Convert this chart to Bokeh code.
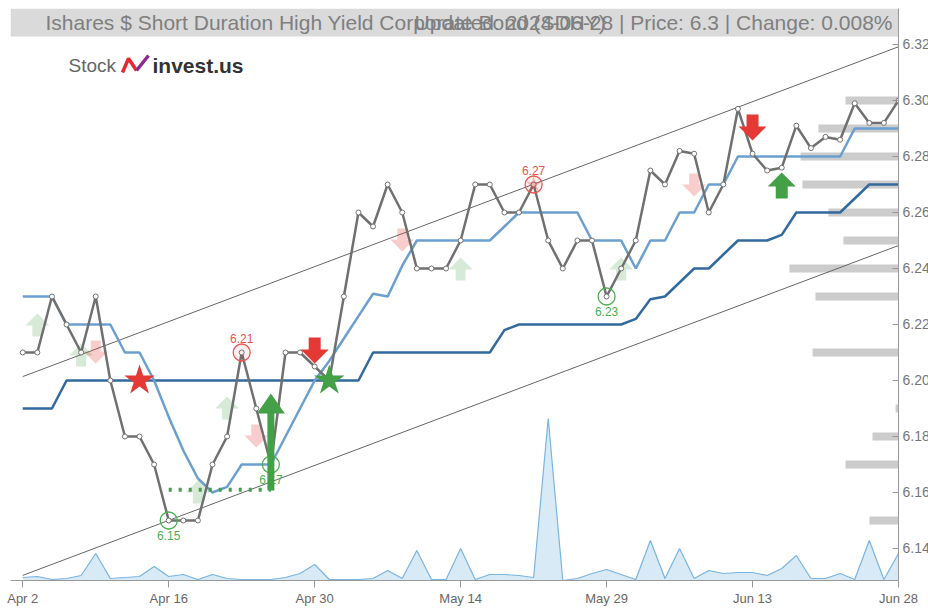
from bokeh.plotting import figure
from bokeh.models import Range1d, FixedTicker, PrintfTickFormatter
from bokeh.core.properties import value
from bokeh.embed import file_html
from bokeh.resources import INLINE

# ---------------- data ----------------
idx = list(range(61))
tick_idx = [0, 10, 20, 30, 40, 50, 60]
tick_labels = ["Apr 2", "Apr 16", "Apr 30", "May 14", "May 29", "Jun 13", "Jun 28"]
y_ticks = [6.14, 6.16, 6.18, 6.20, 6.22, 6.24, 6.26, 6.28, 6.30, 6.32]

price = [6.21, 6.21, 6.23, 6.22, 6.21, 6.23, 6.20, 6.18, 6.18, 6.17,
         6.15, 6.15, 6.15, 6.17, 6.18, 6.21, 6.19, 6.17, 6.21, 6.21,
         6.205, 6.20, 6.23, 6.26, 6.255, 6.27, 6.26, 6.24, 6.24, 6.24,
         6.25, 6.27, 6.27, 6.26, 6.26, 6.27, 6.25, 6.24, 6.25, 6.25,
         6.23, 6.24, 6.25, 6.275, 6.27, 6.282, 6.281, 6.26, 6.27, 6.297,
         6.281, 6.275, 6.276, 6.291, 6.283, 6.287, 6.286, 6.299, 6.292, 6.292,
         6.30]

ma_fast = [6.23, 6.23, 6.23, 6.22, 6.22, 6.22, 6.22, 6.21, 6.21, 6.20,
           6.187, 6.175, 6.165, 6.16, 6.162, 6.17, 6.17, 6.17, 6.18, 6.19,
           6.20, 6.207, 6.215, 6.223, 6.231, 6.23, 6.241, 6.25, 6.25, 6.25,
           6.25, 6.25, 6.25, 6.255, 6.26, 6.26, 6.26, 6.26, 6.26, 6.25,
           6.25, 6.25, 6.24, 6.25, 6.25, 6.26, 6.26, 6.27, 6.27, 6.28,
           6.28, 6.28, 6.28, 6.28, 6.28, 6.28, 6.28, 6.29, 6.29, 6.29,
           6.29]

ma_slow = [6.19, 6.19, 6.19] + [6.20] * 21 + [6.21] * 9 + [6.218] + [6.22] * 8 + \
          [6.222, 6.229, 6.23, 6.235, 6.24, 6.24, 6.245, 6.25, 6.25, 6.25,
           6.252, 6.26, 6.26, 6.26, 6.26, 6.265, 6.27, 6.27, 6.27]

volume = [3, 4, 1, 2, 5, 27, 2, 3, 4, 14,
          4, 6, 1, 6, 2, 1, 1, 1, 3, 7,
          16, 1, 1, 1, 2, 10, 2, 30, 1, 1,
          32, 1, 6, 6, 5, 3, 162, 0, 2, 7,
          11, 6, 1, 40, 2, 32, 2, 10, 7, 8,
          8, 5, 12, 25, 2, 2, 7, 1, 40, 1,
          27]

channel_x = [0, 60]
channel_upper = [6.2014, 6.3192]
channel_lower = [6.1304, 6.2482]

profile_prices = [6.30, 6.29, 6.28, 6.27, 6.26, 6.25, 6.24, 6.23, 6.21, 6.19, 6.18, 6.17, 6.15]
profile_volume = [3.63, 5.48, 6.71, 6.58, 4.80, 3.77, 7.47, 5.69, 5.89, 0.2, 1.78, 3.63, 1.99]

high_pivot_idx = [15, 35]
high_pivot_price = [6.21, 6.27]
low_pivot_idx = [10, 17, 40]
low_pivot_price = [6.15, 6.17, 6.23]

sell_star_idx, sell_star_price = [8], [6.20]
buy_star_idx, buy_star_price = [21], [6.20]

support_idx = [10, 17]
support_price = 6.161

strong_up_idx, strong_up_tip = [52], [6.2743]
strong_down_idx, strong_down_tip = [20, 50], [6.2061, 6.2857]
weak_up_idx = [1, 4, 12, 14, 30, 41]
weak_up_tip = [6.2239, 6.2132, 6.1643, 6.1943, 6.2439, 6.2439]
weak_down_idx = [5, 16, 26, 46]
weak_down_tip = [6.2061, 6.1761, 6.2461, 6.2657]
breakout_idx, breakout_tip = [17], [6.1954]

title_left = "Ishares $ Short Duration High Yield Corporate Bond (SDHY)"
title_right = "Updated: 2024-06-28 | Price: 6.3 | Change: 0.008%"

# ---------------- layout ----------------
FRAME_W, FRAME_H = 888, 572
X_START, X_END = -0.84, 60.0
Y_START, Y_END = 6.128571, 6.332857
XS = FRAME_W / (X_END - X_START)
YS = FRAME_H / (Y_END - Y_START)
FL, FT = 10, 8  # frame left/top in page px


def dx(px):
    return X_START + (px - FL) / XS


def dy(py):
    return Y_END - (py - FT) / YS


FONT = value("Liberation Sans")
RED = "#e53935"
GREEN = "#43a047"

p = figure(frame_width=FRAME_W, frame_height=FRAME_H,
           x_range=Range1d(X_START, X_END), y_range=Range1d(Y_START, Y_END),
           output_backend="svg", toolbar_location=None, y_axis_location="right",
           min_border_left=FL, min_border_top=FT, min_border_right=0, min_border_bottom=0,
           outline_line_color=None, background_fill_color="white", border_fill_color="white")
p.grid.visible = False

xa = p.xaxis[0]
xa.ticker = FixedTicker(ticks=tick_idx)
xa.major_label_overrides = {t: l for t, l in zip(tick_idx, tick_labels)}
xa.axis_line_color = "#999999"
xa.major_tick_line_color = "#999999"
xa.major_tick_in = 0
xa.major_tick_out = 7
xa.minor_tick_line_color = None
xa.major_label_standoff = 3
xa.major_label_text_color = "#666666"
xa.major_label_text_font = "Liberation Sans"
xa.major_label_text_font_size = "13px"

ya = p.yaxis[0]
ya.ticker = FixedTicker(ticks=y_ticks)
ya.formatter = PrintfTickFormatter(format="%.2f")
ya.axis_line_color = "#999999"
ya.major_tick_line_color = "#999999"
ya.major_tick_in = 6
ya.major_tick_out = 0
ya.minor_tick_line_color = None
ya.major_label_standoff = 4
ya.major_label_text_color = "#777777"
ya.major_label_text_font = "Liberation Sans"
ya.major_label_text_font_size = "14px"

# volume area
p.extra_y_ranges = {"vol": Range1d(0, FRAME_H)}
p.varea(x=idx, y1=[0] * len(idx), y2=volume, y_range_name="vol",
        fill_color="#a9d0ec", fill_alpha=0.45)
p.line(idx, volume, y_range_name="vol", line_color="#7ab4e0", line_width=1.2)

# volume profile bars
p.hbar(y=profile_prices, left=[X_END - v for v in profile_volume], right=X_END,
       height=8 / YS, fill_color="#cccccc", line_color=None)

# channel
p.line(channel_x, channel_upper, line_color="#666666", line_width=1)
p.line(channel_x, channel_lower, line_color="#666666", line_width=1)

# moving averages
p.line(idx, ma_slow, line_color="#336a9e", line_width=2.5)
p.line(idx, ma_fast, line_color="#6b9fcf", line_width=2.5)

# support dotted line
p.line(support_idx, [support_price] * 2, line_color=GREEN, line_width=4, line_dash="3 7")


def arrow(i, tip, up, hw, hh, sw, length):
    s = 1 if up else -1
    pts = [(0, 0), (hw / 2, hh), (sw / 2, hh), (sw / 2, length),
           (-sw / 2, length), (-sw / 2, hh), (-hw / 2, hh)]
    return [i + a / XS for a, b in pts], [tip - s * b / YS for a, b in pts]


def arrows(idxs, tips, up, hw, hh, sw, length):
    xs, ys = [], []
    for i, t in zip(idxs, tips):
        ax, ay = arrow(i, t, up, hw, hh, sw, length)
        xs.append(ax)
        ys.append(ay)
    return xs, ys


# weak (faded) arrows
xs, ys = arrows(weak_up_idx, weak_up_tip, True, 24, 12, 10, 23)
p.patches(xs, ys, fill_color=GREEN, fill_alpha=0.22, line_color=None)
xs, ys = arrows(weak_down_idx, weak_down_tip, False, 24, 12, 10, 23)
p.patches(xs, ys, fill_color=RED, fill_alpha=0.25, line_color=None)

# price line
p.line(idx, price, line_color="#707070", line_width=2.5)
p.scatter(idx, price, size=5, fill_color="white", line_color="#707070", line_width=1)

# pivot circles and labels
p.scatter([35], [6.27], marker="star", size=16, fill_color=RED, fill_alpha=0.3, line_color=None)
p.scatter(high_pivot_idx, high_pivot_price, size=17, fill_color=RED, fill_alpha=0.08,
          line_color="#ef5350", line_width=1.3)
p.scatter(low_pivot_idx, low_pivot_price, size=17, fill_color=None,
          line_color="#4caf50", line_width=1.3)
p.text(high_pivot_idx, high_pivot_price, text=[f"{v:.2f}" for v in high_pivot_price],
       text_align="center", text_baseline="middle", y_offset=-14,
       text_color="#ef5350", text_font=FONT, text_font_size="12px")
p.text(low_pivot_idx, low_pivot_price, text=[f"{v:.2f}" for v in low_pivot_price],
       text_align="center", text_baseline="middle", y_offset=15,
       text_color="#4caf50", text_font=FONT, text_font_size="12px")

# strong arrows
xs, ys = arrows(breakout_idx, breakout_tip, True, 28, 20, 7, 97)
p.patches(xs, ys, fill_color=GREEN, line_color=None)
xs, ys = arrows(strong_up_idx, strong_up_tip, True, 28, 14, 12, 26)
p.patches(xs, ys, fill_color=GREEN, line_color=None)
xs, ys = arrows(strong_down_idx, strong_down_tip, False, 28, 14, 12, 26)
p.patches(xs, ys, fill_color=RED, line_color=None)

# stars
p.scatter(sell_star_idx, sell_star_price, marker="star", size=32, fill_color=RED, line_color=None)
p.scatter(buy_star_idx, buy_star_price, marker="star", size=32, fill_color=GREEN, line_color=None)

# title box
p.quad(left=dx(10), right=dx(898), top=dy(8), bottom=dy(36),
       fill_color="#dadada", line_color=None)
p.text([dx(45)], [dy(22)], text=[title_left], text_align="left", text_baseline="middle",
       text_color="#7f7f7f", text_font=FONT, text_font_size="21px")
p.text([dx(892)], [dy(22)], text=[title_right], text_align="right", text_baseline="middle",
       text_color="#7f7f7f", text_font=FONT, text_font_size="21px")

# logo
p.text([dx(68)], [dy(65)], text=["Stock"], text_align="left", text_baseline="middle",
       text_color="#666666", text_font=FONT, text_font_size="19px")
p.line([dx(122), dx(128), dx(136)], [dy(72), dy(58), dy(70)], line_color="#e8262f", line_width=3.5)
p.line([dx(136), dx(148)], [dy(70), dy(55)], line_color="#8e2a8c", line_width=3.5)
p.text([dx(152)], [dy(65)], text=["invest.us"], text_align="left", text_baseline="middle",
       text_color="#333333", text_font=FONT, text_font_size="21px", text_font_style="bold")

open("out.html", "w").write(file_html(p, INLINE))
